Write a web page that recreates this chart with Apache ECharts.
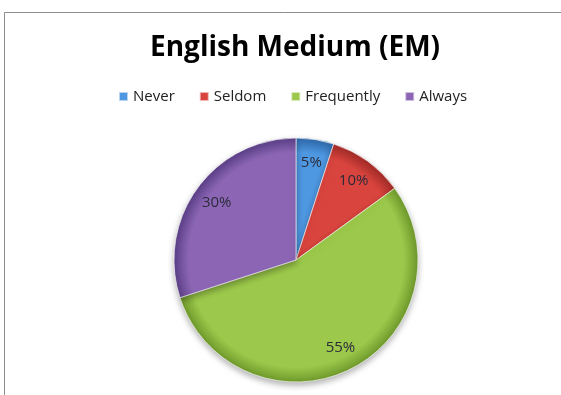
<!DOCTYPE html>
<html>
<head>
<meta charset="utf-8">
<script src="https://cdn.jsdelivr.net/npm/echarts@6/dist/echarts.min.js"></script>
<style>
  html, body { margin: 0; padding: 0; background: #fff; }
  #chart { width: 561px; height: 395px; }
</style>
</head>
<body>
<div id="chart"></div>
<script>
// Share of responses per frequency category
const categories = ['Never', 'Seldom', 'Frequently', 'Always'];
const shares = [5, 10, 55, 30];
const baseColors = ['#4e98e2', '#d9443e', '#9cc94b', '#8c66b5'];
const edgeColors = ['#2f6aab', '#a32b27', '#6f9a2c', '#5c4088'];

const CX = 296, CY = 260, R = 122;

// soft bevel: flat fill that darkens toward the rim of the pie
function shade(i) {
  return {
    type: 'radial', x: CX, y: CY, r: R, global: true,
    colorStops: [
      { offset: 0, color: baseColors[i] },
      { offset: 0.88, color: baseColors[i] },
      { offset: 1, color: edgeColors[i] }
    ]
  };
}

const pieData = categories.map((name, i) => ({
  name: name,
  value: shares[i],
  itemStyle: { color: shade(i) }
}));

const labelData = categories.map((name, i) => ({ name: name, value: shares[i] }));

const legendData = categories.map((name, i) => ({
  name: name,
  itemStyle: { color: baseColors[i] }
}));

const chart = echarts.init(document.getElementById('chart'), null, { renderer: 'canvas' });
chart.setOption({
  backgroundColor: '#ffffff',
  animation: false,
  color: baseColors,
  title: {
    text: 'English Medium (EM)',
    left: 145,
    top: 29,
    textStyle: { fontFamily: 'Open Sans', fontWeight: 'bold', fontSize: 28, color: '#000' }
  },
  legend: {
    data: legendData,
    top: 84,
    left: 113,
    icon: 'rect',
    itemWidth: 9,
    itemHeight: 9,
    itemGap: 24,
    textStyle: { fontFamily: 'Open Sans', fontSize: 15, color: '#222' }
  },
  graphic: [{
    type: 'rect',
    shape: { x: 4.5, y: 12.5, width: 600, height: 420 },
    style: { fill: null, stroke: '#8c8c8c', lineWidth: 1 },
    z: -1
  }],
  series: [
    {
      type: 'pie',
      center: [CX, CY],
      radius: [0, R],
      startAngle: 90,
      clockwise: true,
      data: pieData,
      label: { show: false },
      labelLine: { show: false },
      itemStyle: {
        borderColor: 'rgba(255,255,255,0.6)',
        borderWidth: 1,
        shadowBlur: 6,
        shadowOffsetY: 3,
        shadowColor: 'rgba(0,0,0,0.3)'
      },
      emphasis: { disabled: true }
    },
    {
      // transparent ring that only carries the percentage labels
      type: 'pie',
      center: [CX, CY],
      radius: [68, R],
      startAngle: 90,
      clockwise: true,
      silent: true,
      data: labelData,
      itemStyle: { color: 'rgba(0,0,0,0)' },
      label: {
        show: true,
        position: 'inside',
        formatter: '{c}%',
        fontFamily: 'Open Sans',
        fontSize: 15,
        color: '#2b2b3a'
      },
      labelLine: { show: false },
      emphasis: { disabled: true }
    }
  ]
});
</script>
</body>
</html>
